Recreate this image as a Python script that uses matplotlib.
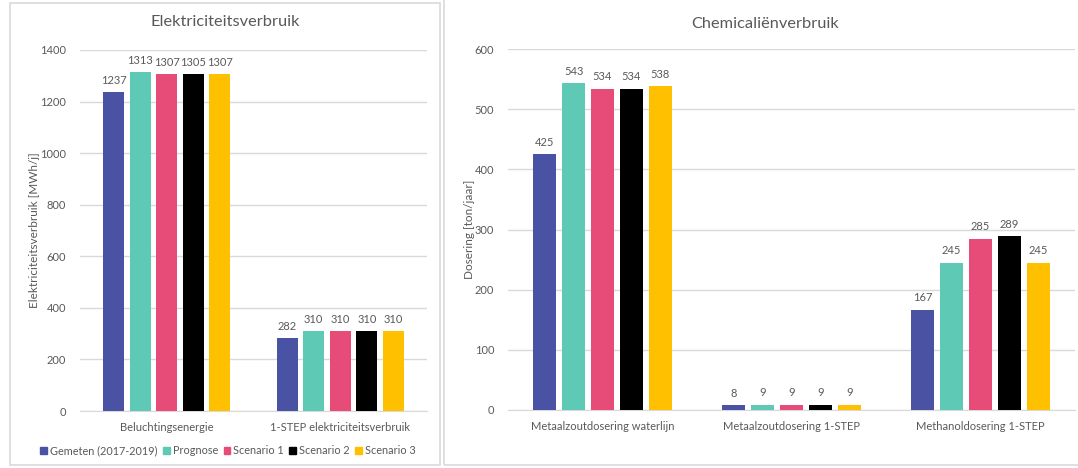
import numpy as np
import matplotlib
matplotlib.use("Agg")
import matplotlib.pyplot as plt
from matplotlib.patches import Rectangle, Patch

plt.rcParams['font.family'] = ['Lato', 'DejaVu Sans']

# series
series = ['Gemeten (2017-2019)', 'Prognose', 'Scenario 1', 'Scenario 2', 'Scenario 3']
colors = ['#4A52A3', '#5EC9B4', '#E64C77', '#000000', '#FFC000']

# elektriciteit
elek_cats = ['Beluchtingsenergie', '1-STEP elektriciteitsverbruik']
elek_vals = [
    [1237, 282],
    [1313, 310],
    [1307, 310],
    [1305, 310],
    [1307, 310],
]

# chemicalien
chem_cats = ['Metaalzoutdosering waterlijn', 'Metaalzoutdosering 1-STEP', 'Methanoldosering 1-STEP']
chem_vals = [
    [425, 8, 167],
    [543, 9, 245],
    [534, 9, 285],
    [534, 9, 289],
    [538, 9, 245],
]

txt = '#595959'
grid = '#D9D9D9'

fig = plt.figure(figsize=(10.78, 4.68), dpi=100)

# panel frames
fig.patches.append(Rectangle((10 / 1078, 3 / 468), 430 / 1078, 462 / 468, transform=fig.transFigure,
                             fill=False, edgecolor=grid, lw=1.2))
fig.patches.append(Rectangle((444 / 1078, 3 / 468), 640 / 1078, 470 / 468, transform=fig.transFigure,
                             fill=False, edgecolor=grid, lw=1.2))


def draw(ax, cats, vals, ymax, step, label_pad):
    x = np.arange(len(cats))
    pitch = 0.153
    for i, (s, c) in enumerate(zip(series, colors)):
        pos = x + (i - 2) * pitch
        bars = ax.bar(pos, vals[i], width=0.121, color=c, zorder=3)
        for b, v in zip(bars, vals[i]):
            ax.text(b.get_x() + b.get_width() / 2, v + label_pad, str(v), ha='center', va='bottom',
                    fontsize=8, color=txt)
    ax.set_xlim(-0.5, len(cats) - 0.5)
    ax.set_ylim(0, ymax)
    ax.set_yticks(np.arange(0, ymax + 1, step))
    ax.set_xticks(x)
    ax.set_xticklabels(cats)
    ax.tick_params(axis='both', length=0, labelsize=8, colors=txt)
    ax.tick_params(axis='y', pad=10)
    ax.tick_params(axis='x', pad=8)
    ax.grid(axis='y', color=grid, lw=1, zorder=0)
    for sp in ['top', 'right', 'left']:
        ax.spines[sp].set_visible(False)
    ax.spines['bottom'].set_color(grid)


ax1 = fig.add_axes([80 / 1078, 1 - 411 / 468, 347 / 1078, 361 / 468])
draw(ax1, elek_cats, elek_vals, 1400, 200, 25)
ax1.set_ylabel('Elektriciteitsverbruik [MWh/j]', fontsize=8.5, color=txt, labelpad=0)
fig.text(225 / 1078, 1 - 22 / 468, 'Elektriciteitsverbruik', ha='center', va='center', fontsize=11.8, color=txt)

ax2 = fig.add_axes([508 / 1078, 1 - 410 / 468, 567 / 1078, 361 / 468])
draw(ax2, chem_cats, chem_vals, 600, 100, 11)
ax2.set_ylabel('Dosering [ton/jaar]', fontsize=8.5, color=txt, labelpad=0)
fig.text(765 / 1078, 1 - 24 / 468, 'Chemicaliënverbruik', ha='center', va='center', fontsize=11.8, color=txt)

handles = [Patch(color=c) for c in colors]
fig.legend(handles, series, loc='center', bbox_to_anchor=(228 / 1078, 1 - 451 / 468), ncol=5,
           frameon=False, fontsize=7.8, handlelength=0.6, handleheight=0.6, handletextpad=0.3,
           columnspacing=0.5, labelcolor=txt)

fig.savefig('out.png', dpi=100)
